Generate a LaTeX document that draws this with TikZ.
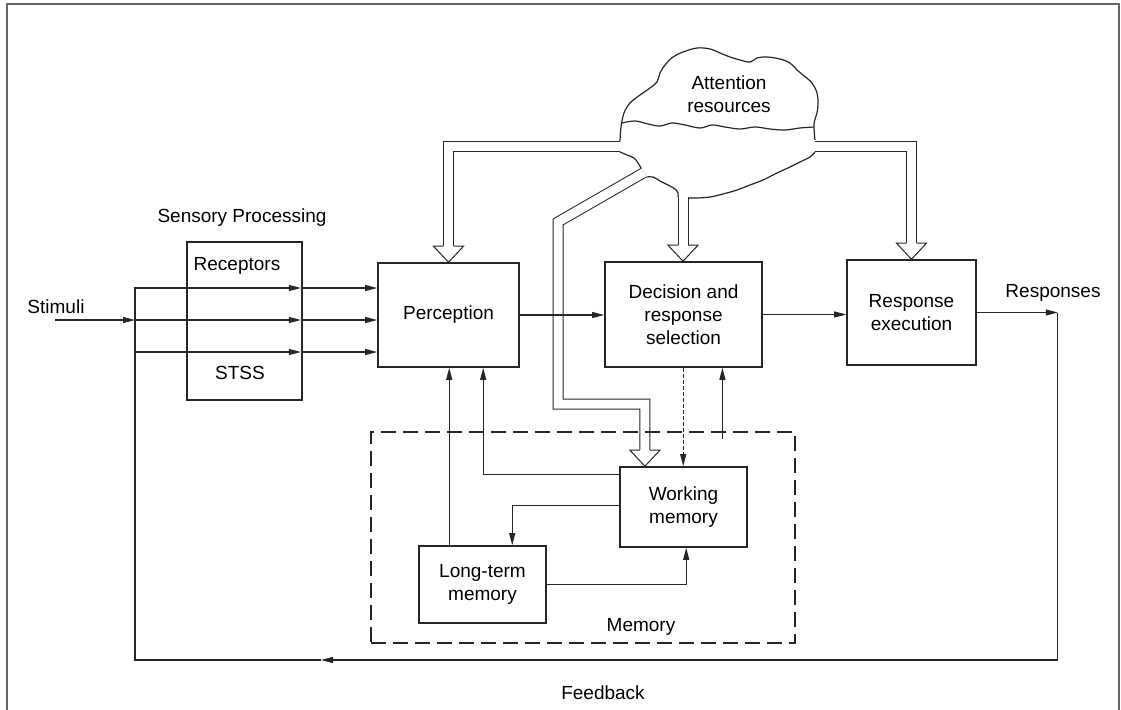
\documentclass[tikz,border=0pt]{standalone}
\usepackage{fontspec}
\setmainfont{Liberation Sans}
\usetikzlibrary{arrows.meta,calc}
\newcommand\lblfont{\fontsize{19}{23}\selectfont}
% open arrowhead at the end of a double shaft; #1 is the tip point
\newcommand\hollowtip[1]{%
  \fill[white] ($(#1)+(-15,-16)$) -- (#1) -- ($(#1)+(15,-16)$) -- cycle;
  \draw[ink,line width=1pt,line join=miter]
    ($(#1)+(-5,-16)$) -- ($(#1)+(-15,-16)$) -- (#1) -- ($(#1)+(15,-16)$) -- ($(#1)+(5,-16)$);}
\begin{document}
\begin{tikzpicture}[x=1pt,y=-1pt,
  ink/.style={draw=black!85},
  box/.style={draw=black!85,line width=1.6pt,inner sep=0pt,align=center,font=\lblfont},
  lbl/.style={inner sep=0pt,align=center,font=\lblfont},
  wire/.style={draw=black!85,line width=1.1pt},
  arr/.style={wire,-{Triangle[length=12pt,width=6pt]}},
  dotarr/.style={arr,dash pattern=on 4pt off 2pt},
  hollow/.style={draw=black!85,line width=1pt,double=white,double distance=9pt,line join=miter},
  cloudline/.style={draw=black!85,line width=1.2pt}]

\useasboundingbox (0,0) rectangle (1121,709);
\fill[white] (0,0) rectangle (1121,709);
\draw[black!60,line width=1.5pt] (7,712) -- (7,4) -- (1119,4) -- (1119,712);

% ---- boxes ----
\node[box,minimum width=115pt,minimum height=158pt] (sens) at (244.5,321) {};
\node[lbl] (sensT) at (242,218) {Sensory Processing};
\node[lbl] (rec) at (237,266) {Receptors};
\node[lbl] (stss) at (240,373) {STSS};
\node[box,minimum width=141pt,minimum height=104pt] (perc) at (448.5,315) {Perception};
\node[box,minimum width=157pt,minimum height=105pt] (dec) at (683.5,314.5) {Decision and\\response\\selection};
\node[box,minimum width=129pt,minimum height=105pt] (resp) at (911.5,312.5) {Response\\execution};
\node[box,minimum width=127pt,minimum height=80pt] (wm) at (683.5,507) {Working\\memory};
\node[box,minimum width=127pt,minimum height=77pt] (ltm) at (482.5,584.5) {Long-term\\memory};
\node[lbl] (memT) at (641,627) {Memory};
\node[lbl] (stim) at (56,307) {Stimuli};
\node[lbl] (respT) at (1053,293) {Responses};
\node[lbl] (fbT) at (603,693) {Feedback};
\node[lbl] (att) at (729,94) {Attention\\resources};

% ---- attention cloud ----
\draw[cloudline] plot[smooth,tension=0.6] coordinates {(620,141) (621,127) (624,113) (630,103)
  (640,95) (650,88) (657,82) (660,73) (665,65) (673,57) (683,52) (697,48) (710,49) (720,53)
  (730,57) (740,60) (750,62) (757,58) (767,57) (780,59) (790,63) (797,70) (803,75) (812,83)
  (817,93) (818,103) (817,113) (814,124) (815,140)};
\draw[cloudline] plot[smooth,tension=0.6] coordinates {(622,123) (635,121) (648,124) (660,126)
  (672,123) (685,125) (700,128) (712,125) (725,127) (740,129) (755,127) (770,129) (785,130)
  (800,128) (814,127)};
\draw[cloudline] plot[smooth,tension=0.6] coordinates {(620,152) (627,155) (634,158) (638,163) (641,168)};
\draw[cloudline] plot[smooth,tension=0.6] coordinates {(647,177) (653,177) (660,181) (668,185)
  (675,189) (678,193) (678,197)};
\draw[cloudline] plot[smooth,tension=0.6] coordinates {(688,198) (697,198) (710,197) (723,194)
  (737,190) (750,185) (763,180) (777,173) (790,167) (800,162) (810,157) (815,152)};

\coordinate (attP) at (620,146);
\coordinate (attD) at (683,197);
\coordinate (attR) at (815,146);
\coordinate (attW) at (644,172.5);

% ---- attention supply (double shafts with open heads) ----
\draw[hollow] (attP) -| ($(perc.north)+(0,-16)$);
\hollowtip{perc.north}
\draw[hollow] (attD) -- ($(attD |- dec.north)+(0,-16)$);
\hollowtip{attD |- dec.north}
\draw[hollow] (attR) -| ($(resp.north)+(0,-16)$);
\hollowtip{resp.north}
\coordinate (wmIn) at ($(wm.north west)!0.2!(wm.north east)$);
\draw[hollow] (attW) -- (558,222) -- (558,404) -| ($(wmIn)+(0,-16)$);
\hollowtip{wmIn}

% ---- memory region ----
\node[draw=black!85,line width=1.2pt,dash pattern=on 15pt off 7pt,minimum width=424pt,
  minimum height=211pt,inner sep=0pt] (mem) at (583,537.5) {};

% ---- sensory input ----
\coordinate (stimIn) at (55,320);
\coordinate (r1) at (135,288);
\coordinate (r2) at (135,320);
\coordinate (r3) at (135,352);
\draw[arr] (stimIn) -- (r2);
\draw[arr] (r2) -- ($(sens.east |- r2)+(-2,0)$);
\draw[arr] (r3) -- ($(sens.east |- r3)+(-2,0)$);
\draw[arr] (sens.east |- r1) -- (perc.west |- r1);
\draw[arr] (sens.east |- r2) -- (perc.west |- r2);
\draw[arr] (sens.east |- r3) -- (perc.west |- r3);

% ---- main chain ----
\draw[arr] (perc.east) -- (perc.east -| dec.west);
\draw[arr] (dec.east) -- (dec.east -| resp.west);
\coordinate (outR) at ($(resp.east)+(81,0)$);
\draw[arr] (resp.east) -- (outR);

% ---- feedback loop ----
\coordinate (fbR) at (outR |- 0,660);
\coordinate (fbA) at (321,660);
\coordinate (fbL) at (135,660);
\draw[arr] (outR) -- (fbR) -- (fbA);
\draw[arr] (fbA) -- (fbL) -- (r1) -- ($(sens.east |- r1)+(-2,0)$);

% ---- memory links ----
\coordinate (wmA) at ($(wm.north west)+(0,8)$);
\coordinate (wmB) at ($(wm.north west)+(0,39)$);
\coordinate (ltmA) at ($(ltm.north west)+(31,0)$);
\coordinate (ltmB) at ($(ltm.north east)+(0,39)$);
\draw[arr] (wmA) -| ($(perc.south west)+(106,0)$);
\draw[arr] (ltmA) -- (ltmA |- perc.south);
\draw[arr] (wmB) -| ($(ltm.north west)+(94,0)$);
\draw[arr] (ltmB) -| ($(wm.south west)+(67,0)$);
\coordinate (decOut) at ($(dec.south west)+(79,0)$);
\draw[dotarr] (decOut) -- (decOut |- wm.north);
\coordinate (memOut) at ($(mem.north west)+(352,8)$);
\draw[arr] (memOut) -- (memOut |- dec.south);

\end{tikzpicture}
\end{document}
